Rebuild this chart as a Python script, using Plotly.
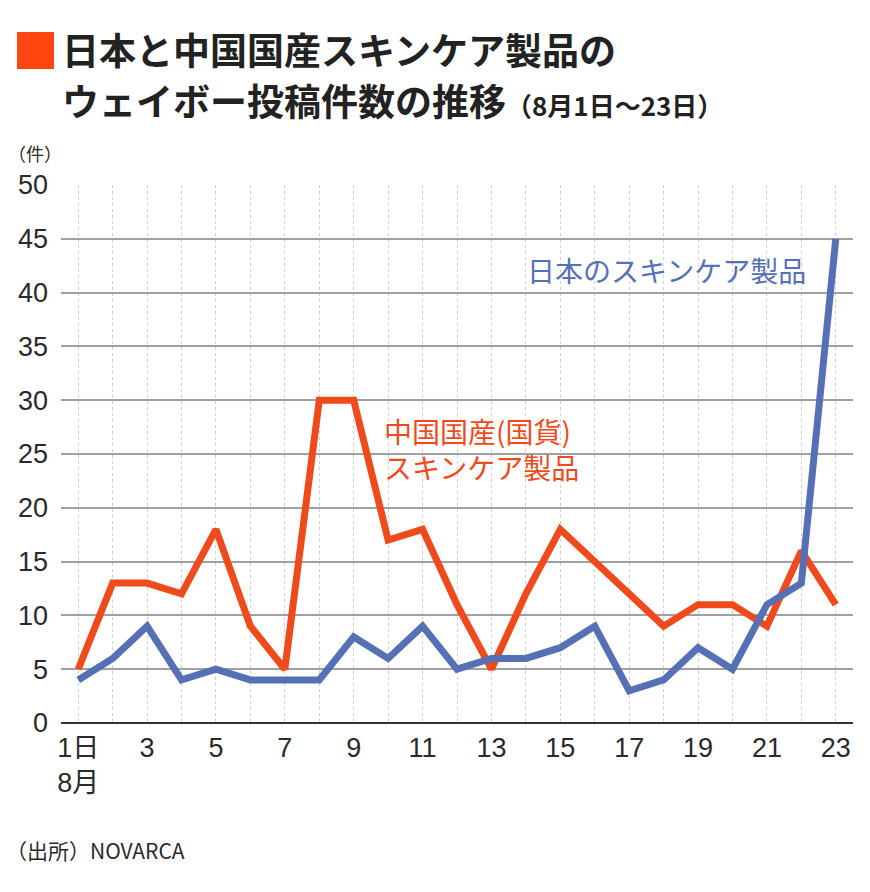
import plotly.graph_objects as go

days = list(range(1, 24))
china = [5, 13, 13, 12, 18, 9, 5, 30, 30, 17, 18, 11, 5, 12, 18, 15, 12, 9, 11, 11, 9, 16, 11]
japan = [4, 6, 9, 4, 5, 4, 4, 4, 8, 6, 9, 5, 6, 6, 7, 9, 3, 4, 7, 5, 11, 13, 45]
tick_vals = [1, 3, 5, 7, 9, 11, 13, 15, 17, 19, 21, 23]
tick_text = ["1日<br>8月", "3", "5", "7", "9", "11", "13", "15", "17", "19", "21", "23"]

RED = "#EF4A1C"
BLUE = "#5670B6"
TXT = "#2a2a2a"
FONT = "Noto Sans CJK JP"
NUMFONT = "Liberation Sans, Noto Sans CJK JP"

W, H = 870, 892
L, R, T, B = 61, 17, 185, 169
PW, PH = W - L - R, H - T - B


def px(x):
    return (x - L) / PW


def py(y):
    return (H - B - y) / PH


fig = go.Figure()
fig.add_trace(go.Scatter(x=days, y=china, mode="lines",
                         line=dict(color=RED, width=7), hoverinfo="skip"))
fig.add_trace(go.Scatter(x=days, y=japan, mode="lines",
                         line=dict(color=BLUE, width=7), hoverinfo="skip"))

fig.update_layout(
    width=W, height=H,
    margin=dict(l=L, r=R, t=T, b=B, pad=0),
    paper_bgcolor="white", plot_bgcolor="white",
    showlegend=False,
    font=dict(family=FONT, color=TXT),
    xaxis=dict(range=[0.5, 23.5], tickmode="array", tickvals=tick_vals, ticktext=tick_text,
               showgrid=True, gridcolor="#cfcfcf", griddash="dot", gridwidth=1,
               minor=dict(tick0=0, dtick=1, showgrid=True, gridcolor="#cfcfcf", griddash="dot", gridwidth=1),
               zeroline=False, showline=False, ticks="", ticklabelstandoff=6,
               tickfont=dict(size=27, color=TXT, family=NUMFONT), fixedrange=True),
    yaxis=dict(range=[0, 50], tickmode="linear", tick0=0, dtick=5,
               showgrid=True, gridcolor="#a0a0a0", gridwidth=1.5,
               zeroline=True, zerolinecolor="#333333", zerolinewidth=2,
               showline=False, ticks="", ticklabelstandoff=12,
               tickfont=dict(size=27, color=TXT, family=NUMFONT), fixedrange=True),
)

# title square
fig.add_shape(type="rect", xref="paper", yref="paper",
              x0=px(17), x1=px(54), y0=py(69), y1=py(32),
              fillcolor="#FF4611", line=dict(width=0))

annos = [
    dict(text="<b>日本と中国国産スキンケア製品の</b>", x=px(60), y=py(49), size=37, color="#222222"),
    dict(text="<b>ウェイボー投稿件数の推移</b><b><span style='font-size:26px'>（8月1日～23日）</span></b>",
         x=px(60), y=py(100), size=37, color="#222222"),
    dict(text="（件）", x=px(6), y=py(153), size=18, color=TXT),
    dict(text="日本のスキンケア製品", x=px(525), y=py(270), size=28, color=BLUE),
    dict(text="中国国産(国貨)<br>スキンケア製品", x=px(382), y=py(449), size=28, color=RED),
    dict(text="（出所）NOVARCA", x=px(4), y=py(850), size=21, color=TXT),
]
for a in annos:
    fig.add_annotation(text=a["text"], xref="paper", yref="paper", x=a["x"], y=a["y"],
                       xanchor="left", yanchor="middle", showarrow=False, align="left",
                       font=dict(family=FONT, size=a["size"], color=a["color"]))

fig.write_html("out.html")
